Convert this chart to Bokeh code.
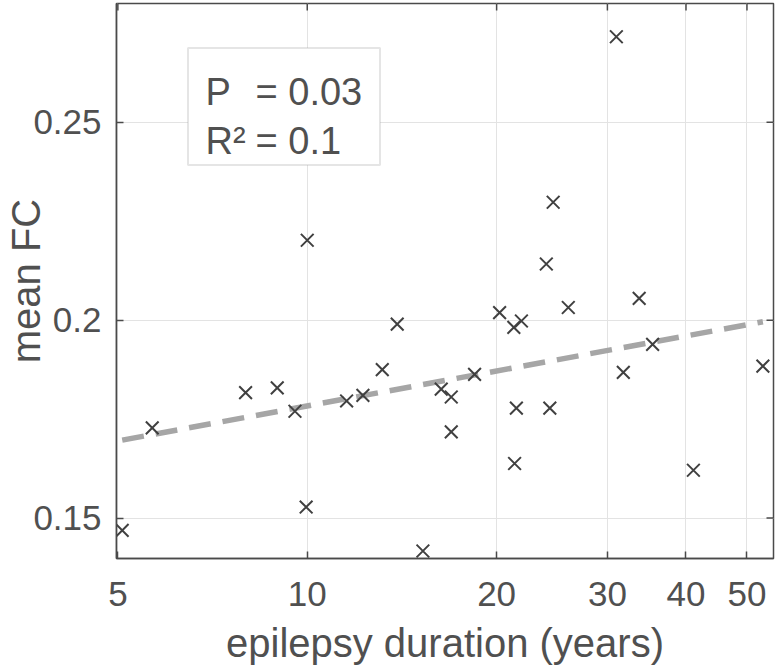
import math
from bokeh.plotting import figure
from bokeh.models import (Range1d, FixedTicker, CustomJSTickFormatter,
                          BoxAnnotation, Label, ColumnDataSource)
from bokeh.embed import file_html
from bokeh.resources import INLINE

# ---- data ----
duration_years = [5.08, 5.67, 7.98, 8.96, 9.56, 9.96, 10.0, 11.55, 12.26, 13.16, 13.9,
                  15.27, 16.33, 16.94, 16.94, 18.45, 20.22, 21.3, 21.9, 21.5, 21.36,
                  24.3, 26.0, 31.8, 33.7, 35.4, 41.1, 53.0, 31.0, 24.6, 23.99]
mean_fc = [0.1469, 0.1728, 0.1817, 0.1829, 0.1770, 0.1528, 0.2202, 0.1796, 0.1810, 0.1875,
           0.1990, 0.1417, 0.1826, 0.1806, 0.1718, 0.1863, 0.2019, 0.1982, 0.1998, 0.1778,
           0.1638, 0.1778, 0.2032, 0.1868, 0.2055, 0.1939, 0.1621, 0.1884, 0.2716, 0.2298,
           0.2142]
fit_x = [min(duration_years), max(duration_years)]
fit_y = [0.1697, 0.1996]
x_ticks = [5, 10, 20, 30, 40, 50]
y_ticks = [0.15, 0.2, 0.25]
x_title = "epilepsy duration (years)"
y_title = "mean FC"
stat_names = ["P", "R\u00b2"]
stat_values = ["= 0.03", "= 0.1"]

# ---- layout ----
X0, X1 = 4.975, 55.1
Y0, Y1 = 0.1398, 0.2800
W, H = 775, 670
LEFT, RIGHT, TOP, BOTTOM = 116, 2, 3, 112
FW, FH = W - LEFT - RIGHT, H - TOP - BOTTOM

def px_to_x(px):
    return 10 ** (math.log10(X0) + (px - LEFT) / FW * math.log10(X1 / X0))

def py_to_y(py):
    return Y1 - (py - TOP) / FH * (Y1 - Y0)

FONT = "Liberation Sans"
TXT = "#505050"
AX = "#4a4a4a"
TICK = 7

p = figure(x_axis_type="log", x_range=Range1d(X0, X1), y_range=Range1d(Y0, Y1),
           width=W, height=H, min_border_left=LEFT, min_border_right=RIGHT,
           min_border_top=TOP, min_border_bottom=BOTTOM, output_backend="svg",
           toolbar_location=None, background_fill_color="white", border_fill_color="white")
p.outline_line_color = AX
p.outline_line_width = 1.5

xa = p.xaxis[0]
xa.ticker = FixedTicker(ticks=x_ticks, minor_ticks=[])
xa.formatter = CustomJSTickFormatter(code="return String(Math.round(tick));")
ya = p.yaxis[0]
ya.ticker = FixedTicker(ticks=y_ticks, minor_ticks=[])
ya.formatter = CustomJSTickFormatter(code="return String(Math.round(tick*100)/100);")

for ax in (xa, ya):
    ax.major_tick_in = TICK
    ax.major_tick_out = 0
    ax.minor_tick_line_color = None
    ax.axis_line_color = AX
    ax.axis_line_width = 1.5
    ax.major_tick_line_color = AX
    ax.major_tick_line_width = 1.5
    ax.major_label_text_font = FONT
    ax.major_label_text_font_size = "35px"
    ax.major_label_text_color = TXT
    ax.axis_label_text_font = FONT
    ax.axis_label_text_font_size = "40px"
    ax.axis_label_text_font_style = "normal"
    ax.axis_label_text_color = TXT

xa.axis_label = x_title
xa.major_label_standoff = 23
xa.axis_label_standoff = 12
ya.axis_label = y_title
ya.major_label_standoff = 15
ya.axis_label_standoff = -18

p.xgrid.grid_line_color = "#e3e3e3"
p.ygrid.grid_line_color = "#e3e3e3"
p.xgrid.grid_line_width = 1
p.ygrid.grid_line_width = 1

# mirrored ticks on the top and right edges of the box
dy_tick = TICK / FH * (Y1 - Y0)
fx_tick = 10 ** (-TICK / FW * math.log10(X1 / X0))
p.segment(x0=x_ticks, x1=x_ticks, y0=[Y1] * len(x_ticks), y1=[Y1 - dy_tick] * len(x_ticks),
          line_color=AX, line_width=1.5)
p.segment(x0=[X1] * len(y_ticks), x1=[X1 * fx_tick] * len(y_ticks), y0=y_ticks, y1=y_ticks,
          line_color=AX, line_width=1.5)

src = ColumnDataSource(dict(dur=duration_years, fc=mean_fc))
p.line(fit_x, fit_y, line_color="#a6a6a6", line_width=5.5, line_dash="22 12")
p.scatter(x="dur", y="fc", source=src, marker="x", size=18, line_color="#404040", line_width=2)

# statistics box
box = BoxAnnotation(left=px_to_x(187.5), right=px_to_x(379.5), top=py_to_y(47.5), bottom=py_to_y(164.5),
                    fill_color="white", fill_alpha=1, line_color="#a8a8a8", line_width=2)
p.add_layout(box)
baselines = [91.5, 140]
for name, val, bl in zip(stat_names, stat_values, baselines):
    p.add_layout(Label(x=px_to_x(205), y=py_to_y(bl), text=name, text_font=FONT,
                       text_font_size="38px", text_color=TXT, text_baseline="alphabetic"))
    p.add_layout(Label(x=px_to_x(255), y=py_to_y(bl), text=val, text_font=FONT,
                       text_font_size="38px", text_color=TXT, text_baseline="alphabetic"))

open("out.html", "w").write(file_html(p, INLINE))
